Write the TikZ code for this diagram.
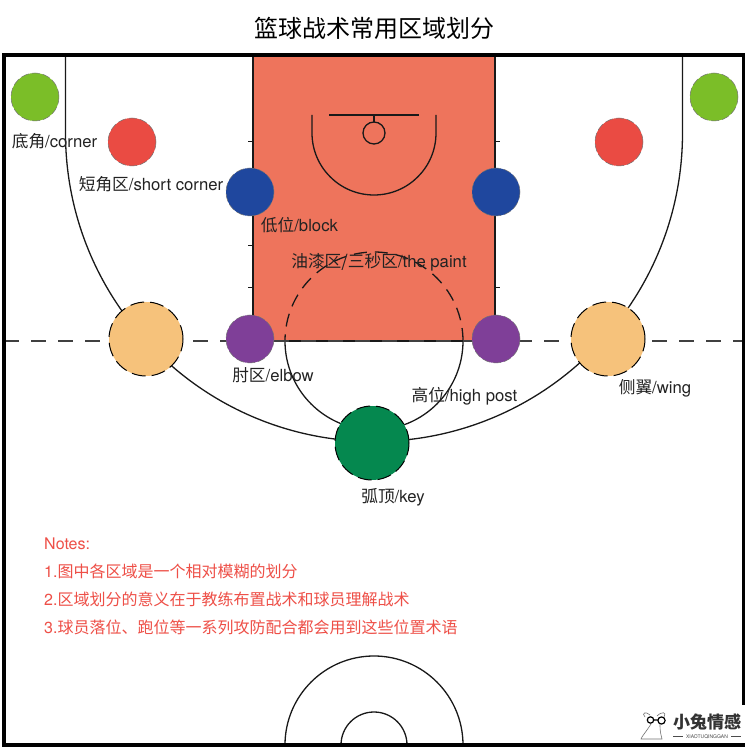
\documentclass[tikz,border=0pt]{standalone}
\usepackage{fontspec}
\setmainfont{TeX Gyre Heros}
\newfontfamily\cjk{Noto Sans CJK SC}
\newcommand{\cj}[1]{{\cjk #1}}
\definecolor{paintc}{HTML}{EE745C}
\definecolor{cornerc}{HTML}{7BBE28}
\definecolor{shortc}{HTML}{EA4B43}
\definecolor{blockc}{HTML}{1F479E}
\definecolor{elbowc}{HTML}{7F3F98}
\definecolor{wingc}{HTML}{F6C27B}
\definecolor{keyc}{HTML}{05884F}
\definecolor{notec}{HTML}{EE4F47}
\definecolor{labelc}{HTML}{222222}
\tikzset{
  courtline/.style={draw=black!90,line width=1.3pt},
  spot/.style={circle,draw=black!55,line width=0.5pt,dash pattern=on 8pt off 3pt,minimum size=#1,inner sep=0pt},
  bigspot/.style={circle,draw=black,line width=1pt,dash pattern=on 14pt off 6pt,minimum size=#1,inner sep=0pt},
  lbl/.style={text=labelc,font=\fontsize{16.7}{18}\selectfont,inner sep=0pt},
  note/.style={text=notec,font=\fontsize{16}{18}\selectfont,anchor=west,inner sep=0pt}
}
\begin{document}
\begin{tikzpicture}[x=1pt,y=1pt]
\useasboundingbox (0,0) rectangle (750,750);
\fill[white] (0,0) rectangle (750,750);
% paint
\fill[paintc] (253,695) rectangle (495,409);
\draw[courtline] (253,695) -- (253,409) -- (495,409) -- (495,695);
% ticks
\foreach \yy in {608,504.5,462.5}{
  \draw[courtline,line width=1pt] (248,\yy) -- (253,\yy);
}
\foreach \yy in {608,462.5}{
  \draw[courtline,line width=1pt] (495,\yy) -- (500,\yy);
}
% basket
\draw[courtline] (329,635) -- (419,635);
\draw[courtline] (374,635) -- (374,628);
\draw[courtline] (374,617) circle[radius=11];
\draw[courtline] (312,635) -- (312,617) arc[start angle=180,end angle=360,radius=62] -- (436,635);
% three-point line
\draw[courtline] (65.5,695) -- (65.5,617) arc[start angle=180,end angle=360,radius=308.5] -- (682.5,695);
% free-throw circle
\draw[courtline] (285,409) arc[start angle=180,end angle=360,radius=89];
\draw[courtline,dash pattern=on 13pt off 8pt] (463,409) arc[start angle=0,end angle=180,radius=89];
% half-court dashed line
\draw[draw=black!75,line width=1.4pt,dash pattern=on 15pt off 12pt] (4,409) -- (743,409);
% bottom arcs
\draw[courtline] (285,5) arc[start angle=180,end angle=0,radius=89];
\draw[courtline] (341,5) arc[start angle=180,end angle=0,radius=33];
% border
\draw[black,line width=3.6pt] (4,5) rectangle (743.5,695);
% spots
\node[spot=48pt,fill=cornerc] (cornerL) at (35,653) {};
\node[spot=48pt,fill=cornerc] (cornerR) at (714,653) {};
\node[spot=48pt,fill=shortc] (shortL) at (132,608) {};
\node[spot=48pt,fill=shortc] (shortR) at (619,608) {};
\node[spot=48pt,fill=blockc] (blockL) at (250,558) {};
\node[spot=48pt,fill=blockc] (blockR) at (496,558) {};
\node[spot=48pt,fill=elbowc] (elbowL) at (250,411) {};
\node[spot=48pt,fill=elbowc] (elbowR) at (496,411) {};
\node[bigspot=74pt,fill=wingc] (wingL) at (146,411) {};
\node[bigspot=74pt,fill=wingc] (wingR) at (608,411) {};
\node[bigspot=74pt,fill=keyc] (keyT) at (372,307) {};
% labels
\node[font=\fontsize{24}{30}\selectfont,inner sep=0pt,text=black] (title) at (374.5,722) {\cj{篮球战术常用区域划分}};
\node[lbl] (t1) at (54.5,609) {\cj{底角}/corner};
\node[lbl] (t2) at (151,566) {\cj{短角区}/short corner};
\node[lbl] (t3) at (299.5,525) {\cj{低位}/block};
\node[lbl] (t4) at (379,488) {\cj{油漆区/三秒区}/the paint};
\node[lbl] (t5) at (273,375) {\cj{肘区}/elbow};
\node[lbl] (t6) at (464.5,354) {\cj{高位}/high post};
\node[lbl] (t7) at (655,362) {\cj{侧翼}/wing};
\node[lbl] (t8) at (393,253) {\cj{弧顶}/key};
% notes
\node[note] (n0) at (44,206) {Notes:};
\node[note] (n1) at (44,179) {1.\cj{图中各区域是一个相对模糊的划分}};
\node[note] (n2) at (44,151) {2.\cj{区域划分的意义在于教练布置战术和球员理解战术}};
\node[note] (n3) at (44,123) {3.\cj{球员落位、跑位等一系列攻防配合都会用到这些位置术语}};
% watermark
\fill[white] (639,7) rectangle (750,45);
\node[inner sep=0pt,font=\fontsize{17}{18}\selectfont\bfseries,text=black!80] (logoa) at (707,28) {\cj{小兔情感}};
\node[inner sep=0pt,font=\fontsize{5}{6}\selectfont,text=black!70] (logob) at (707,13.5) {XIAOTUQINGGAN};
\draw[black!70,line width=0.8pt] (673,13.5) -- (683,13.5) (731,13.5) -- (741,13.5);
% rabbit
\draw[black,line width=1.2pt] (650.5,30) circle[radius=3.2] (661.5,29.5) circle[radius=3.6] (653.7,30) -- (657.9,30);
\draw[black!55,line width=0.6pt] (645,33) .. controls (641,37) and (646,39) .. (650,35) (657,34) .. controls (662,39) and (667,38) .. (664,33) (651,26) .. controls (646,18) and (642,14) .. (641,11) -- (662,11) .. controls (660,18) and (660,22) .. (660,26);
\end{tikzpicture}
\end{document}
